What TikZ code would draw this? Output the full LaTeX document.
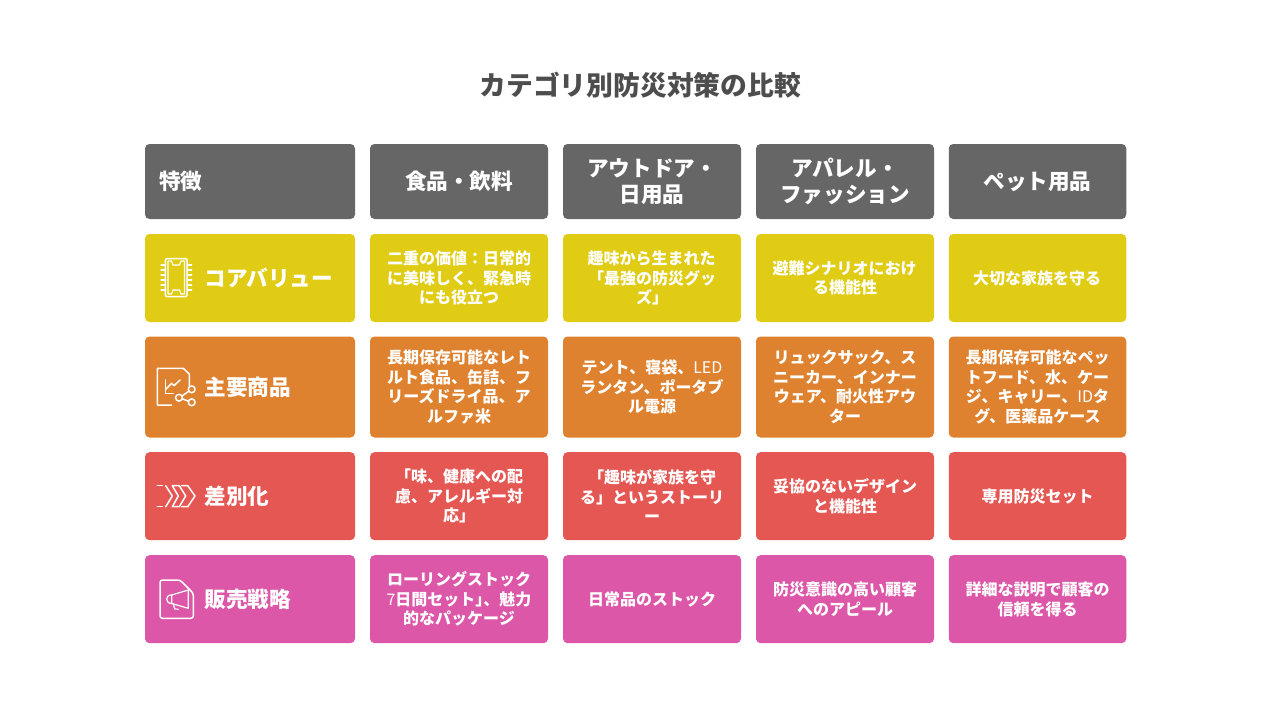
\documentclass[tikz,border=0pt]{standalone}
\usepackage{fontspec}
\setmainfont{Noto Sans CJK JP}
\definecolor{hdr}{HTML}{666666}
\definecolor{ye}{HTML}{E0CC15}
\definecolor{or}{HTML}{DF8230}
\definecolor{re}{HTML}{E55753}
\definecolor{pk}{HTML}{DC57A8}
\definecolor{ttl}{HTML}{4D4D4D}
\tikzset{
 x=1pt,y=-1pt,
 cell/.style={fill=#1,rounded corners=4.5pt,inner sep=0pt,text=white,align=center,anchor=center,font=\fontsize{16}{19.6}\selectfont\bfseries},
 headcell/.style={cell=hdr,font=\fontsize{21.6}{26}\selectfont\bfseries},
 sidelabel/.style={text=white,anchor=west,inner sep=0pt,font=\fontsize{21.6}{26}\selectfont\bfseries},
 icon/.style={draw=white,line width=1.5pt,line join=round,line cap=round,fill=none},
}
\begin{document}
\begin{tikzpicture}
\useasboundingbox (0,0) rectangle (1280,720);
\node[text=ttl,inner sep=0pt,font=\fontsize{26.8}{32}\selectfont\bfseries] (title) at (640.3,85) {カテゴリ別防災対策の比較};
% header row
\node[headcell,minimum width=210pt,minimum height=75pt] (h0) at (250,181.5) {};
\node[sidelabel] (h0t) at (159,181) {特徴};
\node[headcell,minimum width=178pt,minimum height=75pt] (h1) at (459,181.5) {食品・飲料};
\node[headcell,minimum width=178pt,minimum height=75pt] (h2) at (652,181.5) {アウトドア・\\日用品};
\node[headcell,minimum width=178pt,minimum height=75pt] (h3) at (845,181.5) {アパレル・\\ファッション};
\node[headcell,minimum width=177.5pt,minimum height=75pt] (h4) at (1037.5,181.5) {ペット用品};
% row header cells
\node[cell=ye,minimum width=210pt,minimum height=88pt] (a0) at (250,278) {};
\node[cell=or,minimum width=210pt,minimum height=101pt] (b0) at (250,387) {};
\node[cell=re,minimum width=210pt,minimum height=88pt] (c0) at (250,496.2) {};
\node[cell=pk,minimum width=210pt,minimum height=88pt] (d0) at (250,599.2) {};
\node[sidelabel] (a0t) at (204.2,278) {コアバリュー};
\node[sidelabel] (b0t) at (204.2,387) {主要商品};
\node[sidelabel] (c0t) at (204.2,496.2) {差別化};
\node[sidelabel] (d0t) at (204.2,599.2) {販売戦略};
% row 1
\node[cell=ye,minimum width=178pt,minimum height=88pt] (a1) at (459,278) {二重の価値：日常的\\に美味しく、緊急時\\にも役立つ};
\node[cell=ye,minimum width=178pt,minimum height=88pt] (a2) at (652,278) {\hspace*{-1pt}趣味から生まれた\\「最強の防災グッ\\ズ」};
\node[cell=ye,minimum width=178pt,minimum height=88pt] (a3) at (845,278) {\hspace*{-1pt}避難シナリオにおけ\\る機能性};
\node[cell=ye,minimum width=177.5pt,minimum height=88pt] (a4) at (1037.5,278) {\hspace*{-1pt}大切な家族を守る};
% row 2
\node[cell=or,minimum width=178pt,minimum height=101pt] (b1) at (459,387) {長期保存可能なレト\\ルト食品、缶詰、フ\\リーズドライ品、ア\\ルファ米};
\node[cell=or,minimum width=178pt,minimum height=101pt] (b2) at (652,387) {テント、寝袋、{\mdseries LED}\\ランタン、ポータブ\\ル電源};
\node[cell=or,minimum width=178pt,minimum height=101pt] (b3) at (845,387) {リュックサック、ス\\ニーカー、インナー\\ウェア、耐火性アウ\\ター};
\node[cell=or,minimum width=177.5pt,minimum height=101pt] (b4) at (1037.5,387) {長期保存可能なペッ\\トフード、水、ケー\\ジ、キャリー、{\mdseries ID}タ\\グ、医薬品ケース};
% row 3
\node[cell=re,minimum width=178pt,minimum height=88pt] (c1) at (459,496.2) {「味、健康への配\\慮、アレルギー対\\応」};
\node[cell=re,minimum width=178pt,minimum height=88pt] (c2) at (652,496.2) {「趣味が家族を守\\る」というストーリ\\ー};
\node[cell=re,minimum width=178pt,minimum height=88pt] (c3) at (845,496.2) {妥協のないデザイン\\と機能性};
\node[cell=re,minimum width=177.5pt,minimum height=88pt] (c4) at (1037.5,496.2) {専用防災セット};
% row 4
\node[cell=pk,minimum width=178pt,minimum height=88pt] (d1) at (459,599.2) {ローリングストック\\{\mdseries 7}日間セット」\kern-8pt、魅力\\的なパッケージ};
\node[cell=pk,minimum width=178pt,minimum height=88pt] (d2) at (652,599.2) {日常品のストック};
\node[cell=pk,minimum width=178pt,minimum height=88pt] (d3) at (845,599.2) {防災意識の高い顧客\\へのアピール};
\node[cell=pk,minimum width=177.5pt,minimum height=88pt] (d4) at (1037.5,599.2) {詳細な説明で顧客の\\信頼を得る};
% icon: chip
\draw[icon,rounded corners=2pt] (165.3,258.5) rectangle (187.2,296.7);
\draw[icon,line width=1.2pt] (168,261) -- (171.5,261) -- (173,265) -- (179.5,265) -- (181,261) -- (184.5,261) -- (184.5,294) -- (181,294) -- (179.5,290) -- (173,290) -- (171.5,294) -- (168,294) -- cycle;
\foreach \yy in {264,269,274,279,284,289}{
 \draw[icon,line width=1.2pt] (161,\yy+1) -- (165,\yy+1);
 \draw[icon,line width=1.2pt] (187.5,\yy+1) -- (191.7,\yy+1);
}
% icon: chart document
\draw[icon] (189.3,386) -- (189.3,374) -- (183.3,368.3) -- (157.3,368.3) -- (157.3,405) -- (171.7,405);
\draw[icon] (165.7,380) -- (165.7,393.3) -- (173.3,393.3);
\draw[icon] (165.7,389.3) -- (171.7,383.3) -- (174,385.7) -- (180,380);
\draw[icon] (191.7,389.3) circle[radius=3.4];
\draw[icon] (179,397.7) circle[radius=3.4];
\draw[icon] (191.7,402.3) circle[radius=3.4];
\draw[icon] (182,396) -- (188.8,391.2);
\draw[icon] (182.3,398.8) -- (188.4,401.2);
% icon: chevrons
\draw[icon] (157.3,485.7) -- (162.3,485.7);
\draw[icon] (157.3,506.7) -- (162.3,506.7);
\draw[icon] (165.7,485.7) -- (172.3,496) -- (165.7,506.7);
\draw[icon] (172.3,485.7) -- (179.3,485.7) -- (185.7,496) -- (179.3,506.7) -- (172.3,506.7) -- (178.3,496) -- cycle;
\draw[icon] (181.7,485.7) -- (187.7,485.7) -- (195,496) -- (187.7,506.7) -- (181.7,506.7);
% icon: megaphone document
\draw[icon,rounded corners=2.5pt] (160,580) -- (180,580) -- (193.3,593.3) -- (193.3,618.3) -- (160,618.3) -- cycle;
\draw[icon,line width=1.2pt] (171.7,595) -- (188.3,590) -- (188.3,608.3) -- (171.7,603.5) -- cycle;
\draw[icon,line width=1.2pt] (171.7,595) .. controls (165,594.5) and (165,603.5) .. (171.7,603.5);
\draw[icon,line width=1.2pt] (173.3,604) -- (174.8,609) -- (178.3,609.2);
\end{tikzpicture}
\end{document}
